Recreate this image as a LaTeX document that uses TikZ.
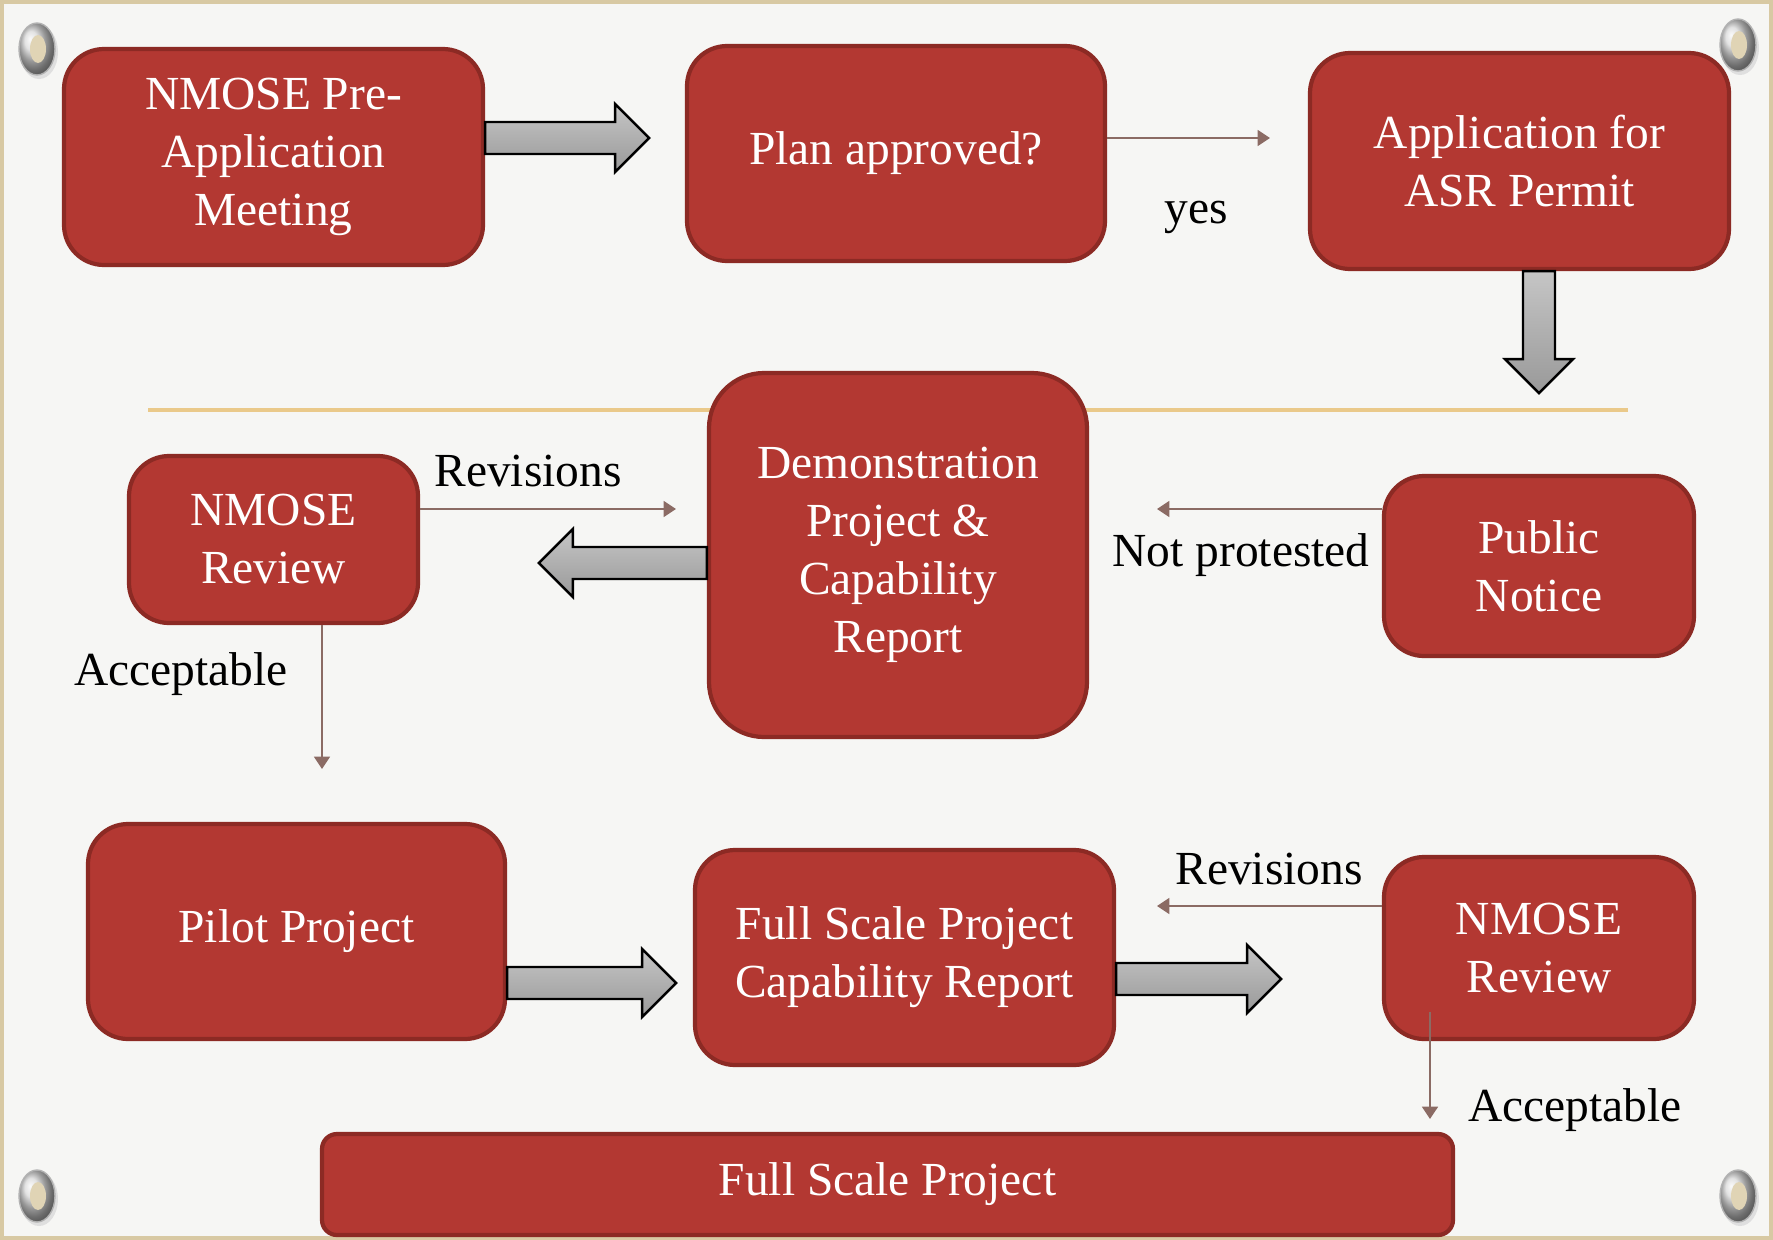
\documentclass[tikz,border=0pt]{standalone}
\usepackage{fontspec}
\setmainfont{Liberation Serif}
\usetikzlibrary{arrows.meta}

\definecolor{boxred}{HTML}{B33832}
\definecolor{boxedge}{HTML}{8C2A24}
\definecolor{linkcol}{HTML}{8B6B64}
\definecolor{rulegold}{HTML}{EAC98A}
\definecolor{paper}{HTML}{F6F6F4}
\definecolor{frame}{HTML}{D8C9A3}

\tikzset{
	box/.style={draw=boxedge, fill=boxred, line width=1.2pt, rounded corners=0.4cm,
		text=white, align=center, inner sep=0pt, font=\fontsize{13.5}{16.5}\selectfont},
	link/.style={draw=linkcol, line width=0.6pt, -{Triangle[length=3.5pt,width=4.5pt]}},
	tag/.style={font=\fontsize{13.5}{16.5}\selectfont},
	fat/.style={draw=black, line width=0.7pt, top color=gray!45, bottom color=gray!80}
}

\newcommand{\fatarrow}[3]{%
	\path[fat, shift={(#1)}, rotate=#2] (0,-16) -- (#3-34,-16) -- (#3-34,-34) -- (#3,0)
		-- (#3-34,34) -- (#3-34,16) -- (0,16) -- cycle;}
\newcommand{\grommet}[1]{%
	\fill[gray!25, shift={(#1)}] (2,3) ellipse[x radius=19, y radius=27];
	\shade[ball color=gray!30, shift={(#1)}] (0,0) ellipse[x radius=18, y radius=26];
	\draw[gray!60, shift={(#1)}] (0,0) ellipse[x radius=18, y radius=26];
	\fill[frame!80!white, shift={(#1)}] (1,0) ellipse[x radius=8, y radius=14];}

\begin{document}
\begin{tikzpicture}[x=0.1mm, y=-0.1mm]
	\useasboundingbox (0,0) rectangle (1773,1240);
	\fill[frame] (0,0) rectangle (1773,1240);
	\fill[paper] (4,4) rectangle (1769,1236);
	\draw[rulegold, line width=1.2pt] (148,410) -- (1628,410);

	\grommet{37,49}
	\grommet{1738,45}
	\grommet{37,1196}
	\grommet{1738,1196}

	\node[box, minimum width=4.19cm, minimum height=2.16cm] (premeeting) at (273.5,157) {NMOSE Pre-\\Application\\Meeting};
	\node[box, minimum width=4.18cm, minimum height=2.15cm] (planok) at (896,153.5) {Plan approved?};
	\node[box, minimum width=4.19cm, minimum height=2.16cm] (asrapp) at (1519.5,161) {Application for\\ASR Permit};
	\node[box, rounded corners=0.55cm, minimum width=3.78cm, minimum height=3.64cm] (demo) at (898,555) {Demonstration\\Project \&\\Capability\\Report};
	\node[box, minimum width=2.89cm, minimum height=1.67cm] (review) at (273.5,539.5) {NMOSE\\Review};
	\node[box, minimum width=3.10cm, minimum height=1.80cm] (notice) at (1539,566) {Public\\Notice};
	\node[box, minimum width=4.17cm, minimum height=2.15cm] (pilot) at (296.5,931.5) {Pilot Project};
	\node[box, minimum width=4.19cm, minimum height=2.15cm] (fullreport) at (904.5,957.5) {Full Scale Project\\Capability Report};
	\node[box, minimum width=3.10cm, minimum height=1.82cm] (finalreview) at (1539,948) {NMOSE\\Review};
	\node[box, rounded corners=0.15cm, minimum width=11.31cm, minimum height=1.01cm] (fullscale) at (887.5,1184.5) {Full Scale Project};

	\fatarrow{premeeting.east |- 0,138}{0}{164}
	\fatarrow{asrapp.south -| 1539,0}{-90}{122}
	\fatarrow{demo.west |- 0,563}{180}{168}
	\fatarrow{pilot.east |- 0,983}{0}{169}
	\fatarrow{fullreport.east |- 0,979}{0}{165}

	\coordinate (yesend) at (1270,138);
	\coordinate (revend) at (676,509);
	\coordinate (noticeend) at (1157,509);
	\coordinate (accend) at (322,769);
	\coordinate (rev2end) at (1157,906);
	\coordinate (acc2start) at (1430,1012);
	\coordinate (acc2end) at (1430,1119);

	\draw[link] (planok.east |- yesend) -- (yesend);
	\draw[link] (review.east |- revend) -- (revend);
	\draw[link] (notice.west |- noticeend) -- (noticeend);
	\draw[link] (review.south -| accend) -- (accend);
	\draw[link] (finalreview.west |- rev2end) -- (rev2end);
	\draw[link] (acc2start) -- (acc2end);

	\node[tag] (yes) at (1196,217) {yes};
	\node[tag] (revtag) at (528,471) {Revisions};
	\node[tag] (nottag) at (1241,555) {Not protested};
	\node[tag] (acctag) at (181,674) {Acceptable};
	\node[tag] (rev2tag) at (1269,869) {Revisions};
	\node[tag] (acc2tag) at (1575,1110) {Acceptable};
\end{tikzpicture}
\end{document}
